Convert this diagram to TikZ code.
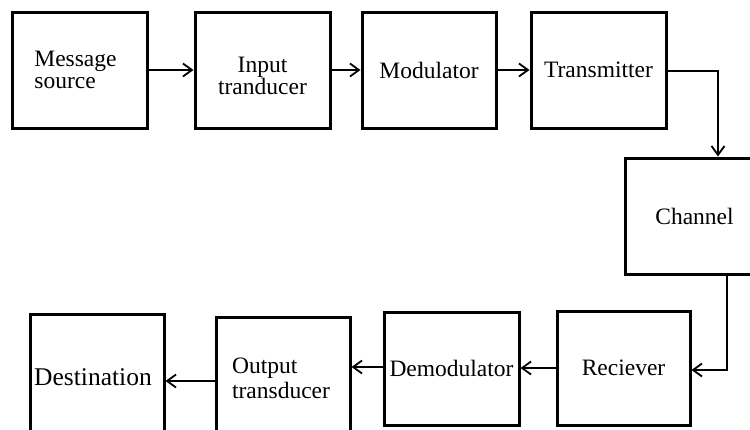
\documentclass[tikz,border=0pt]{standalone}
\usepackage{fontspec}
\setmainfont{Liberation Serif}
\usetikzlibrary{arrows.meta,calc}
\begin{document}
\begin{tikzpicture}[x=1pt,y=-1pt,
  blk/.style={draw=black,line width=3pt,rectangle,inner sep=0pt,
    font=\fontsize{23.5}{22}\selectfont,align=center},
  conn/.style={draw=black,line width=1.8pt,-{Straight Barb[length=9pt,width=13pt,line width=1.8pt]}}]
\useasboundingbox (0,0) rectangle (750,429);
\clip (0,0) rectangle (750,429);
\fill[white] (0,0) rectangle (750,429);
\node[blk,minimum width=135pt,minimum height=116pt,align=left] (msg) at (79.5,70) {\hspace*{-8pt}Message\\\hspace*{-8pt}source};
\node[blk,minimum width=135pt,minimum height=116pt] (inp) at (262.5,70) {\rule{0pt}{28pt}Input\\tranducer};
\node[blk,minimum width=134pt,minimum height=116pt] (mod) at (429,70) {Modulator};
\node[blk,minimum width=135pt,minimum height=116pt] (tx) at (598.5,70) {Transmitter};
\node[blk,minimum width=139pt,minimum height=116pt] (ch) at (694.5,216) {Channel};
\node[blk,minimum width=133pt,minimum height=114pt] (rx) at (623.5,368) {Reciever};
\node[blk,minimum width=135pt,minimum height=113pt] (dem) at (451.5,368.5) {Demodulator};
\node[blk,minimum width=134pt,minimum height=123pt,align=left,
  font=\fontsize{23.5}{25}\selectfont] (out) at (283,378.5) {\hspace*{-4pt}Output\\\hspace*{-4pt}transducer};
\node[blk,minimum width=134pt,minimum height=126pt,
  font=\fontsize{25.5}{25}\selectfont] (dst) at (97,377) {\hspace*{-8pt}Destination};
\draw[conn] (msg.east) -- (inp.west);
\draw[conn] (inp.east) -- (mod.west);
\draw[conn] (mod.east) -- (tx.west);
\draw[conn] ([yshift=-1pt]tx.east) -| ([xshift=23.5pt]ch.north);
\draw[conn] ([xshift=32.5pt]ch.south) |- ([yshift=-2pt]rx.east);
\draw[conn] (rx.west) -- (rx.west -| dem.east);
\draw[conn] ([yshift=1.5pt]dem.west) -- ([yshift=1.5pt]dem.west -| out.east);
\draw[conn] ([yshift=-2.5pt]out.west) -- ([yshift=-2.5pt]out.west -| dst.east);
\end{tikzpicture}
\end{document}
